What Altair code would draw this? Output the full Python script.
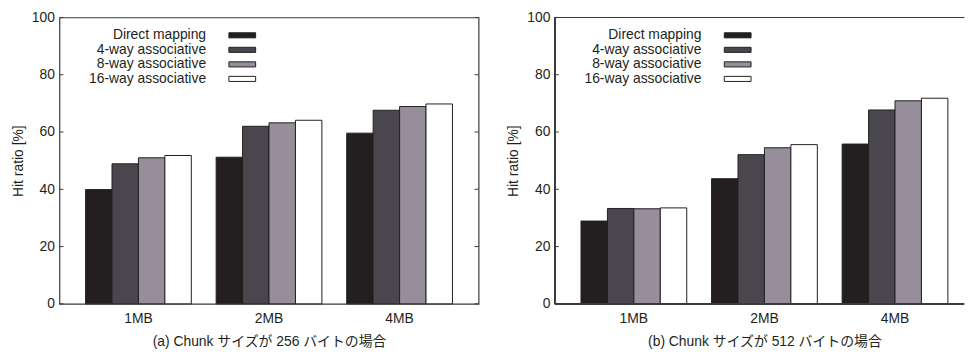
import altair as alt
import pandas as pd

FONT = "Liberation Sans, Arial, Noto Sans CJK JP, sans-serif"
TEXT = "#231f20"
FRAME = "#3a3a3a"

categories = ["1MB", "2MB", "4MB"]
series = ["Direct mapping", "4-way associative", "8-way associative", "16-way associative"]
colors = ["#231f20", "#4a464e", "#968e9b", "#ffffff"]

# panel (a): chunk size 256 bytes
direct_a = [39.9, 51.2, 59.6]
way4_a = [48.9, 62.0, 67.6]
way8_a = [51.0, 63.2, 68.9]
way16_a = [51.8, 64.1, 69.8]

# panel (b): chunk size 512 bytes
direct_b = [28.9, 43.7, 55.8]
way4_b = [33.3, 52.1, 67.7]
way8_b = [33.2, 54.5, 70.9]
way16_b = [33.5, 55.6, 71.8]

yticks = [0, 20, 40, 60, 80, 100]
captions = ["(a) Chunk サイズが 256 バイトの場合", "(b) Chunk サイズが 512 バイトの場合"]
y_title = "Hit ratio [%]"

FULL_W = 423
H = 289


def panel(series_vals, caption, width, full_frame):
    rows = []
    for s, vals in zip(series, series_vals):
        for c, v in zip(categories, vals):
            rows.append({"size": c, "series": s, "ratio": v})
    df = pd.DataFrame(rows)

    yscale = alt.Scale(domain=[0, 100], nice=False)
    bars = alt.Chart(df).mark_bar(stroke=TEXT, strokeWidth=1).encode(
        x=alt.X(
            "size:N",
            sort=categories,
            scale=alt.Scale(domain=categories, range=[0, FULL_W], paddingInner=0.19, paddingOuter=0.2),
            axis=alt.Axis(
                title=caption, labelAngle=0, ticks=False, domain=False,
                labelPadding=8, titlePadding=9, titleX=FULL_W / 2,
            ),
        ),
        xOffset=alt.XOffset("series:N", sort=series, scale=alt.Scale(domain=series)),
        y=alt.Y(
            "ratio:Q", scale=yscale,
            axis=alt.Axis(values=yticks, title=y_title, grid=False, ticks=False,
                          domain=False, labelPadding=5, titlePadding=6),
        ),
        color=alt.Color("series:N", sort=series,
                        scale=alt.Scale(domain=series, range=colors), legend=None),
    )

    tick_df = pd.DataFrame({"v": yticks})
    layers = [bars]
    layers.append(
        alt.Chart(tick_df).mark_rule(color=FRAME, strokeWidth=1).encode(
            y=alt.Y("v:Q", scale=yscale), x=alt.value(0), x2=alt.value(4)
        )
    )
    if full_frame:
        layers.append(
            alt.Chart(tick_df).mark_rule(color=FRAME, strokeWidth=1).encode(
                y=alt.Y("v:Q", scale=yscale), x=alt.value(width - 4), x2=alt.value(width)
            )
        )
    else:
        # open-right frame: top, bottom and left edges only
        for yv in (0, H):
            layers.append(
                alt.Chart(tick_df).mark_rule(color=FRAME, strokeWidth=1.2).encode(
                    x=alt.value(0), x2=alt.value(width), y=alt.value(yv)
                )
            )
        layers.append(
            alt.Chart(tick_df).mark_rule(color=FRAME, strokeWidth=1.2).encode(
                x=alt.value(0), y=alt.value(0), y2=alt.value(H)
            )
        )
    main = alt.layer(*layers)

    leg_df = pd.DataFrame({"series": series})
    leg_y = alt.Y("series:N", sort=series,
                  scale=alt.Scale(type="point", domain=series, range=[18, 62], padding=0),
                  axis=None)
    leg_text = alt.Chart(leg_df).mark_text(
        align="right", baseline="middle", fontSize=14, font=FONT, color=TEXT
    ).encode(x=alt.value(148), y=leg_y, text="series:N")
    leg_sw = alt.Chart(leg_df).mark_point(
        shape="M-1,-0.19H1V0.19H-1Z", size=729, filled=True, opacity=1,
        stroke=TEXT, strokeWidth=1
    ).encode(
        x=alt.value(184.5), y=leg_y,
        color=alt.Color("series:N", sort=series,
                        scale=alt.Scale(domain=series, range=colors), legend=None),
    )

    props = dict(width=width, height=H)
    if full_frame:
        props["view"] = alt.ViewBackground(stroke=FRAME, strokeWidth=1.2)
    else:
        props["view"] = alt.ViewBackground(stroke="transparent", strokeWidth=0)
    return alt.layer(main, leg_text, leg_sw).resolve_scale(y="independent").properties(**props)


left = panel([direct_a, way4_a, way8_a, way16_a], captions[0], FULL_W, True)
right = panel([direct_b, way4_b, way8_b, way16_b], captions[1], 413, False)

chart = alt.hconcat(left, right, spacing=77, bounds="flush").properties(
    padding={"left": 11, "top": 8, "right": 0, "bottom": 4},
    background="white",
).configure_axis(
    labelFont=FONT, labelFontSize=14, labelColor=TEXT,
    titleFont=FONT, titleFontSize=14, titleFontWeight="normal", titleColor=TEXT,
)

chart.save("out.html", embed_options={"renderer": "svg", "actions": False})
